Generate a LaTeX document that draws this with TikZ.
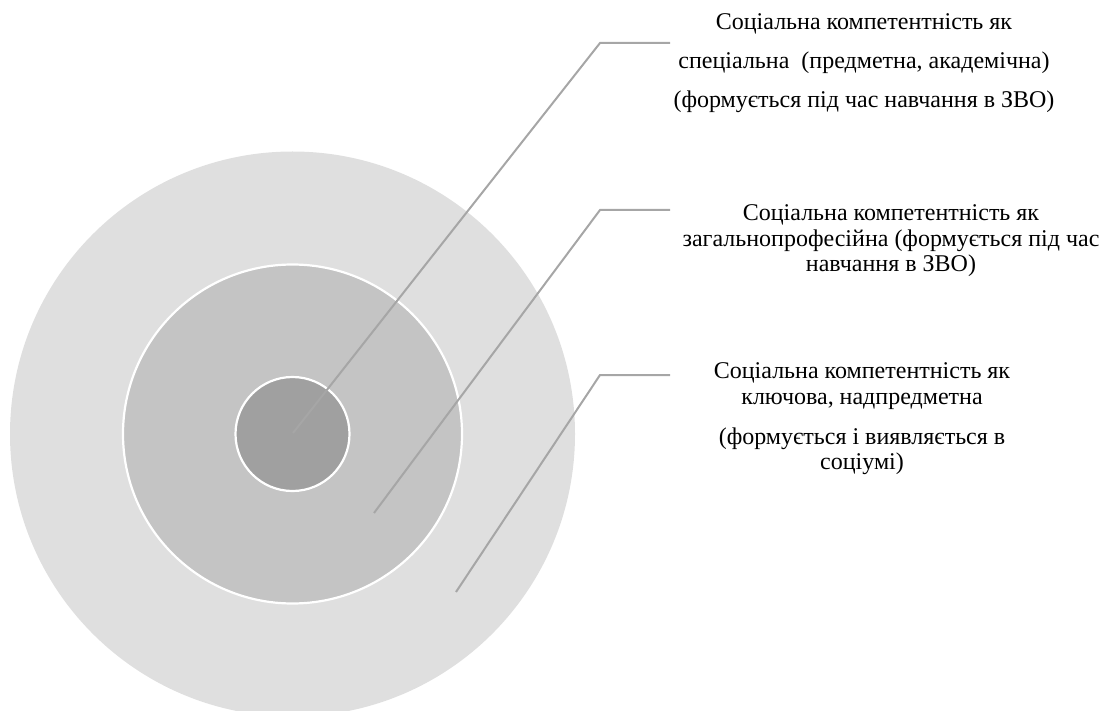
\documentclass[tikz,border=0pt]{standalone}
\usepackage{fontspec}
\setmainfont{Liberation Serif}
\definecolor{ringouter}{HTML}{DFDFDF}
\definecolor{ringmid}{HTML}{C4C4C4}
\definecolor{ringinner}{HTML}{A0A0A0}
\definecolor{leader}{HTML}{A6A6A6}
\tikzset{
  ring/.style={draw=white, line width=2.2pt},
  leaderline/.style={draw=leader, line width=2pt},
  label/.style={align=center, inner sep=0pt, font=\fontsize{24}{25.5}\selectfont, text=black}
}
\begin{document}
\begin{tikzpicture}[x=1pt,y=-1pt]
\useasboundingbox (0,0) rectangle (1102,711);
\begin{scope}
\clip (0,0) rectangle (1102,711);
\fill[ringouter] (292.5,434) circle (282.5);
\end{scope}
\path[ring, fill=ringmid] (292.5,434) circle (169.5);
\path[ring, fill=ringinner] (292.5,434) circle (57);
% coordinates
\coordinate (e1) at (293,433);
\coordinate (b1) at (600,43);
\coordinate (h1) at (670,43);
\coordinate (e2) at (374,513);
\coordinate (b2) at (600,210);
\coordinate (h2) at (670,210);
\coordinate (e3) at (456,592);
\coordinate (b3) at (600,375);
\coordinate (h3) at (670,375);
\draw[leaderline] (e1) -- (b1) -- (h1);
\draw[leaderline] (e2) -- (b2) -- (h2);
\draw[leaderline] (e3) -- (b3) -- (h3);
% labels
\node[label] (t1) at (864,63) {Соціальна компетентність як\\[13.5pt]спеціальна~ (предметна, академічна)\\[13.5pt](формується під час навчання в ЗВО)};
\node[label] (t2) at (891,241) {Соціальна компетентність як\\загальнопрофесійна (формується під час\\навчання в ЗВО)};
\node[label] (t3) at (862,419) {Соціальна компетентність як\\ключова, надпредметна\\[14.5pt](формується і виявляється в\\соціумі)};
\end{tikzpicture}
\end{document}
